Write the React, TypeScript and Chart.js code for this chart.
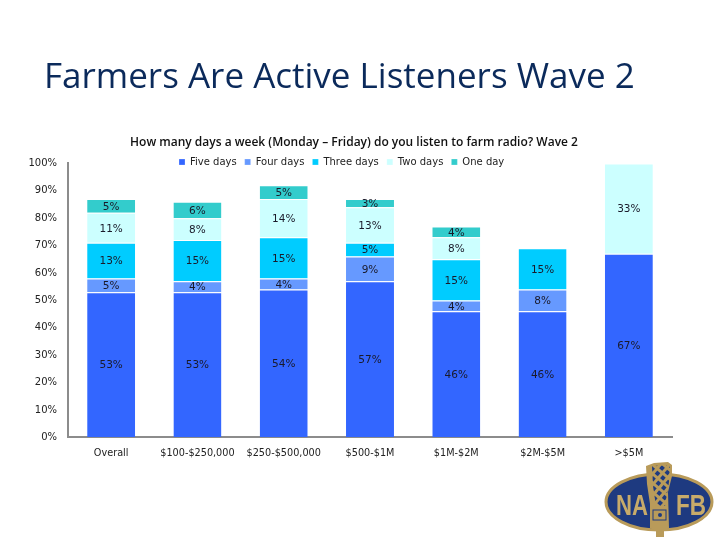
import React, { useEffect, useRef } from "react";
import { Chart, registerables } from "chart.js";

Chart.register(...registerables);

const categories = ["Overall", "$100-$250,000", "$250-$500,000", "$500-$1M", "$1M-$2M", "$2M-$5M", ">$5M"];
const fiveDays = [53, 53, 54, 57, 46, 46, 67];
const fourDays = [5, 4, 4, 9, 4, 8, 0];
const threeDays = [13, 15, 15, 5, 15, 15, 0];
const twoDays = [11, 8, 14, 13, 8, 0, 33];
const oneDay = [5, 6, 5, 3, 4, 0, 0];

const FONT = "'DejaVu Sans', sans-serif";
const INK = "#1a1a2a";

const valueLabels = {
  id: "valueLabels",
  afterDatasetsDraw(chart: any) {
    const { ctx } = chart;
    ctx.save();
    ctx.font = `10.5px ${FONT}`;
    ctx.fillStyle = INK;
    ctx.textAlign = "center";
    ctx.textBaseline = "middle";
    chart.data.datasets.forEach((ds: any, i: number) => {
      chart.getDatasetMeta(i).data.forEach((bar: any, j: number) => {
        const v = ds.data[j];
        if (!v) return;
        const p = bar.getCenterPoint();
        ctx.fillText(`${v}%`, p.x, p.y + 1);
      });
    });
    ctx.restore();
  },
};

const placeBlocks = {
  id: "placeBlocks",
  afterLayout(chart: any) {
    const l = chart.legend;
    if (l) {
      const h = l.bottom - l.top;
      l.left = 171;
      l.right = 720;
      l.top = 149;
      l.bottom = 149 + h;
    }
    const t = chart.titleBlock;
    if (t) {
      const h = t.bottom - t.top;
      t.left += 18;
      t.right += 18;
      t.top = 135;
      t.bottom = 135 + h;
    }
  },
};

export default function App() {
  const ref = useRef<HTMLCanvasElement>(null);
  useEffect(() => {
    const mk = (label: string, data: number[], color: string) => ({
      label,
      data,
      backgroundColor: color,
      borderColor: "#ffffff",
      borderWidth: { top: 1, bottom: 0, left: 0, right: 0 },
      borderSkipped: false,
      barPercentage: 0.556,
      categoryPercentage: 1,
    });
    const chart = new Chart(ref.current!, {
      type: "bar",
      data: {
        labels: categories,
        datasets: [
          mk("Five days", fiveDays, "#3366FF"),
          mk("Four days", fourDays, "#6699FF"),
          mk("Three days", threeDays, "#00CCFF"),
          mk("Two days", twoDays, "#CCFFFF"),
          mk("One day", oneDay, "#33CCCC"),
        ],
      },
      options: {
        responsive: false,
        animation: false,
        layout: { padding: { top: 121, left: 0, right: 48, bottom: 71 } },
        plugins: {
          tooltip: { enabled: false },
          title: {
            display: true,
            text: "How many days a week (Monday – Friday) do you listen to farm radio? Wave 2",
            color: "#111111",
            font: { family: "'Open Sans', sans-serif", size: 12, weight: "600" },
            padding: { top: 0, bottom: 0 },
          },
          legend: {
            position: "top",
            align: "start",
            labels: {
              boxWidth: 6,
              boxHeight: 6,
              padding: 8,
              color: "#222222",
              font: { family: FONT, size: 10 },
            },
          },
        },
        scales: {
          x: {
            stacked: true,
            grid: { display: false, drawTicks: false },
            border: { color: "#8c8c8c", width: 2 },
            ticks: { color: "#222222", font: { family: FONT, size: 9.7 }, padding: 10, maxRotation: 0, autoSkip: false },
          },
          y: {
            stacked: true,
            min: 0,
            max: 100,
            afterFit(scale: any) {
              scale.width = 68;
            },
            grid: { display: false, drawTicks: false },
            border: { color: "#8c8c8c", width: 2 },
            ticks: {
              stepSize: 10,
              color: "#222222",
              font: { family: FONT, size: 10 },
              padding: 11,
              callback: (v: any) => `${v}%`,
            },
          },
        },
      } as any,
      plugins: [valueLabels, placeBlocks],
    });
    return () => chart.destroy();
  }, []);

  const GOLD = "#B99B5A";
  const NAVY = "#1E3A80";
  const logoFont = "'Liberation Sans', sans-serif";
  return (
    <div style={{ position: "absolute", left: 0, top: 0, width: 720, height: 540, background: "#fff", overflow: "hidden" }}>
      <canvas ref={ref} width={720} height={540} style={{ position: "absolute", left: 0, top: 0, display: "block" }} />
      <div
        style={{
          position: "absolute",
          left: 44,
          top: 52,
          fontFamily: "'Open Sans', sans-serif",
          fontSize: 35,
          lineHeight: "46px",
          color: "#0B2A5B",
          whiteSpace: "nowrap",
        }}
      >
        Farmers Are Active Listeners Wave 2
      </div>
      <svg width={720} height={540} style={{ position: "absolute", left: 0, top: 0 }}>
        <defs>
          <pattern id="mesh" width={7} height={7} patternUnits="userSpaceOnUse" patternTransform="rotate(40)">
            <rect width={7} height={7} fill={GOLD} />
            <rect x={1} y={1} width={4} height={4} fill={NAVY} />
          </pattern>
        </defs>
        <ellipse cx={659} cy={502} rx={53} ry={28} fill={NAVY} stroke={GOLD} strokeWidth={3} />
        <text x={616} y={515} textLength={32} lengthAdjust="spacingAndGlyphs" fontFamily={logoFont} fontWeight="bold" fontSize={30} fill="#C8AB6A">NA</text>
        <text x={676} y={515} textLength={30} lengthAdjust="spacingAndGlyphs" fontFamily={logoFont} fontWeight="bold" fontSize={30} fill="#C8AB6A">FB</text>
        <path d="M646 466 L654 463 L668 462 L672 465 L672 476 L668 492 L669 528 L664 531 L664 537 L656 537 L656 531 L650 528 L650 504 L647 484 Z" fill={GOLD} />
        <path d="M652 466 L670 465 L669 482 L665 506 L656 506 L653 486 Z" fill="url(#mesh)" />
        <rect x={653} y={510} width={13} height={10} fill="none" stroke={NAVY} strokeWidth={1} />
        <circle cx={660} cy={515} r={2} fill={NAVY} />
      </svg>
    </div>
  );
}
